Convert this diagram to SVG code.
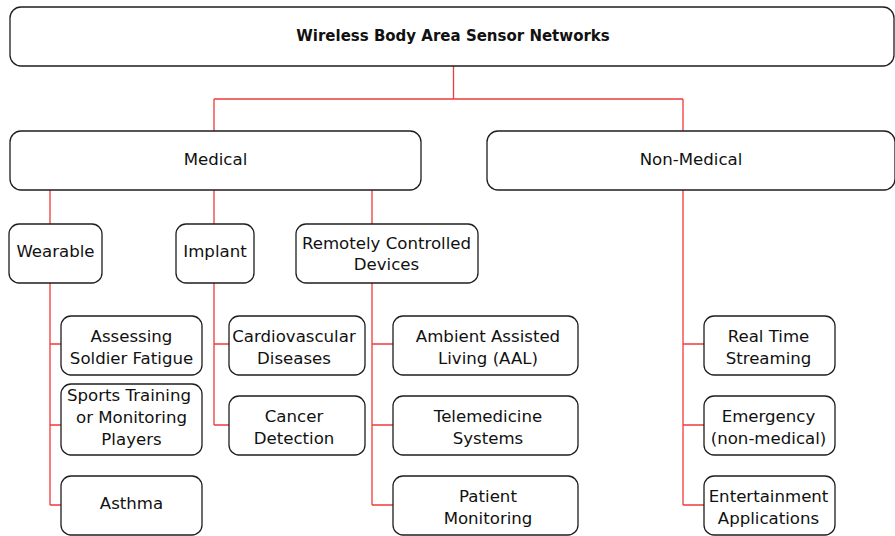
<svg xmlns="http://www.w3.org/2000/svg" width="895" height="536" viewBox="0 0 895 536">
<style>
.box{fill:#fff;stroke:#1e1e1e;stroke-width:1.3}
.t{font-family:"DejaVu Sans",Verdana,sans-serif;font-size:16.6px;fill:#111;text-anchor:middle}
.b{font-weight:bold;font-size:15px}
.c{fill:none;stroke:#f03a3a;stroke-width:1.3}
</style>
<rect width="895" height="536" fill="#fff"/>
<g id="connectors">
<path class="c" d="M453.5 66V99M214 99H683M214 99V131M683 99V131"/>
<path class="c" d="M50 190V224M214 190V224M372 190V224"/>
<path class="c" d="M50 283V505M50 344H61M50 425H61M50 505H61"/>
<path class="c" d="M214 283V425M214 344H229M214 425H229"/>
<path class="c" d="M372 283V505M372 344H393M372 425H393M372 505H393"/>
<path class="c" d="M683 190V505M683 344H704M683 425H704M683 505H704"/>
</g>
<g id="root"><rect class="box" x="10" y="7" width="884" height="59" rx="11"/><text class="t b" x="453" y="41">Wireless Body Area Sensor Networks</text></g>
<g id="medical"><rect class="box" x="10" y="131" width="411" height="59" rx="11"/><text class="t" x="215.5" y="165">Medical</text></g>
<g id="nonmedical"><rect class="box" x="487" y="131" width="408" height="59" rx="11"/><text class="t" x="691" y="165">Non-Medical</text></g>
<g id="wearable"><rect class="box" x="9" y="224" width="93" height="59" rx="10"/><text class="t" x="55.5" y="257">Wearable</text></g>
<g id="implant"><rect class="box" x="176" y="224" width="78" height="59" rx="10"/><text class="t" x="215" y="257">Implant</text></g>
<g id="remote"><rect class="box" x="296" y="224" width="182" height="59" rx="10"/><text class="t" x="386.5" y="249">Remotely Controlled</text><text class="t" x="386.5" y="270">Devices</text></g>
<g id="soldier"><rect class="box" x="61" y="316" width="141" height="59" rx="10"/><text class="t" x="131.5" y="341.5">Assessing</text><text class="t" x="131.5" y="363.5">Soldier Fatigue</text></g>
<g id="sports"><rect class="box" x="61" y="384" width="141" height="71" rx="10"/><text class="t" x="129" y="401">Sports Training</text><text class="t" x="131.5" y="423">or Monitoring</text><text class="t" x="131.5" y="445">Players</text></g>
<g id="asthma"><rect class="box" x="61" y="476" width="141" height="59" rx="10"/><text class="t" x="131.5" y="509">Asthma</text></g>
<g id="cardio"><rect class="box" x="229" y="316" width="136" height="59" rx="10"/><text class="t" x="294" y="341.5">Cardiovascular</text><text class="t" x="294" y="363.5">Diseases</text></g>
<g id="cancer"><rect class="box" x="229" y="396" width="136" height="59" rx="10"/><text class="t" x="294" y="421.5">Cancer</text><text class="t" x="294" y="443.5">Detection</text></g>
<g id="aal"><rect class="box" x="393" y="316" width="185" height="59" rx="10"/><text class="t" x="488" y="341.5">Ambient Assisted</text><text class="t" x="488" y="363.5">Living (AAL)</text></g>
<g id="tele"><rect class="box" x="393" y="396" width="185" height="59" rx="10"/><text class="t" x="488" y="421.5">Telemedicine</text><text class="t" x="488" y="443.5">Systems</text></g>
<g id="patient"><rect class="box" x="393" y="476" width="185" height="59" rx="10"/><text class="t" x="488" y="501.5">Patient</text><text class="t" x="488" y="523.5">Monitoring</text></g>
<g id="realtime"><rect class="box" x="704" y="316" width="131" height="59" rx="10"/><text class="t" x="768.5" y="341.5">Real Time</text><text class="t" x="768.5" y="363.5">Streaming</text></g>
<g id="emergency"><rect class="box" x="704" y="396" width="131" height="59" rx="10"/><text class="t" x="768.5" y="421.5">Emergency</text><text class="t" x="768.5" y="443.5">(non-medical)</text></g>
<g id="entertainment"><rect class="box" x="704" y="476" width="131" height="59" rx="10"/><text class="t" x="768.5" y="501.5">Entertainment</text><text class="t" x="768.5" y="523.5">Applications</text></g>
</svg>
